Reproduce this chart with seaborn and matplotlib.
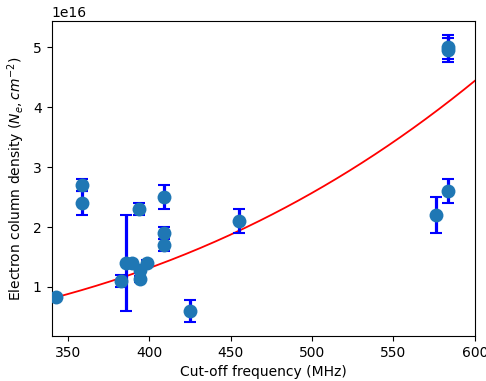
import numpy as np
import pandas as pd
import matplotlib
matplotlib.use('Agg')
import matplotlib.pyplot as plt
import seaborn as sns

# cut-off frequency (MHz), electron column density (1e16 cm^-2) and its error
freq = [342.6, 358.5, 358.5, 382.8, 386.0, 389.5, 394.0, 394.5, 394.5, 398.5,
        409.0, 409.0, 409.0, 424.8, 455.3, 576.3, 583.5, 583.5, 583.5]
dens = [0.83, 2.70, 2.40, 1.10, 1.40, 1.40, 2.30, 1.28, 1.13, 1.40,
        2.50, 1.90, 1.70, 0.60, 2.10, 2.20, 5.00, 4.95, 2.60]
dens_err = [0.03, 0.10, 0.20, 0.10, 0.80, 0.05, 0.10, 0.05, 0.05, 0.05,
            0.20, 0.10, 0.10, 0.18, 0.20, 0.30, 0.20, 0.20, 0.20]

# power-law fit N = amp * (f / f_ref) ** k
fit_amp = 4.44e16
fit_ref = 600.0
fit_exp = 3.0

df = pd.DataFrame({'freq': freq,
                   'dens': np.array(dens) * 1e16,
                   'err': np.array(dens_err) * 1e16})

f_fit = np.linspace(340, 600, 200)
fit_df = pd.DataFrame({'freq': f_fit, 'dens': fit_amp * (f_fit / fit_ref) ** fit_exp})

fig, ax = plt.subplots(figsize=(4.86, 3.81), dpi=100)

sns.lineplot(data=fit_df, x='freq', y='dens', color='red', linewidth=1.3, ax=ax, zorder=1)
ax.errorbar(df['freq'], df['dens'], yerr=df['err'], fmt='none', ecolor='blue',
            elinewidth=2.3, capsize=4, capthick=1.5, zorder=2)
sns.scatterplot(data=df, x='freq', y='dens', color='#1f77b4', s=100,
                edgecolor='#1f77b4', linewidth=0, ax=ax, zorder=3)

ax.set_xlim(340, 600)
ax.set_xlabel('Cut-off frequency (MHz)')
ax.set_ylabel(r'Electron column density ($N_e, cm^{-2}$)')

fig.subplots_adjust(left=0.106, right=0.977, top=0.945, bottom=0.118)
fig.savefig('out.png')
